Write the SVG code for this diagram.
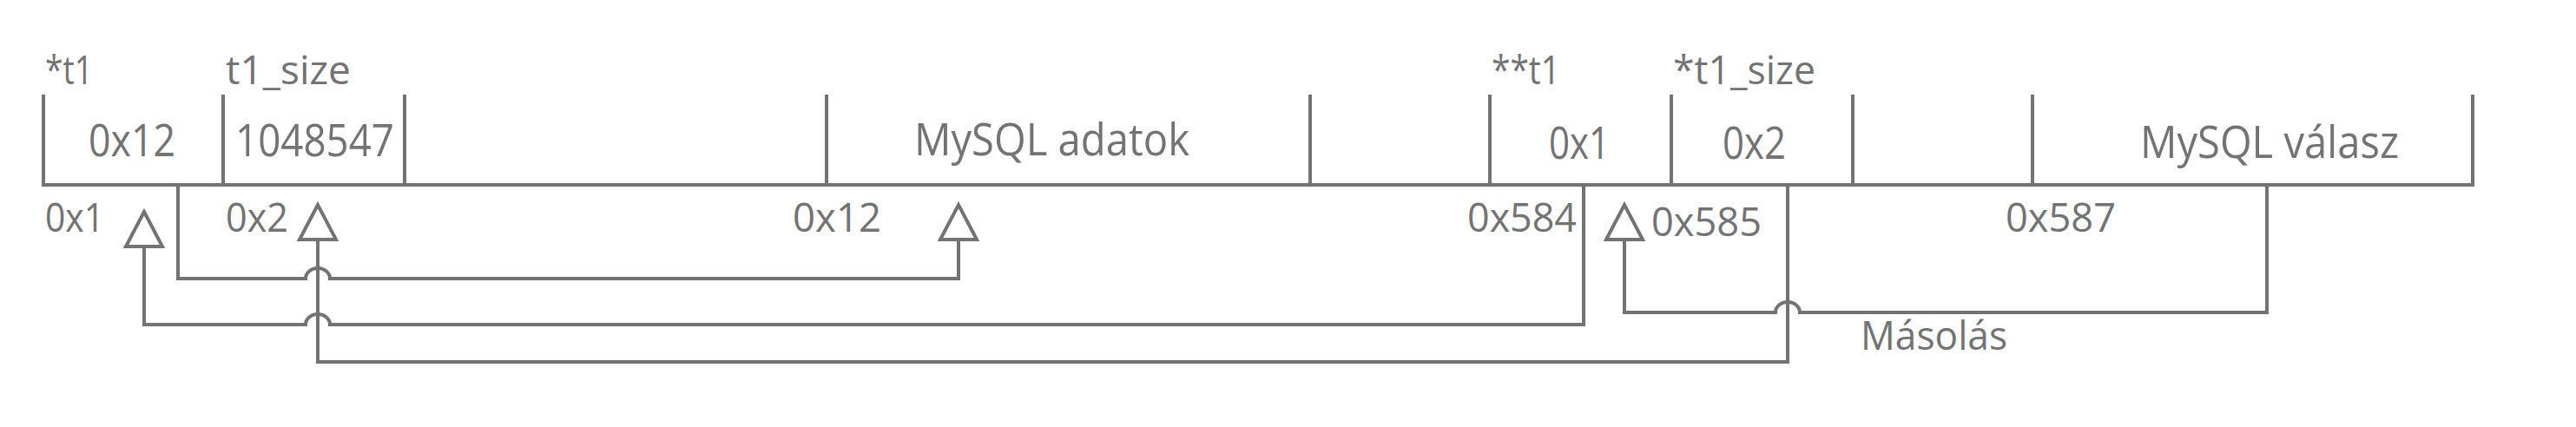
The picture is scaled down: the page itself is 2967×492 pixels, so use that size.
<svg xmlns="http://www.w3.org/2000/svg" width="2967" height="492" viewBox="0 0 2967 492">
  <style>
    .ln { fill: none; stroke: #737373; stroke-width: 4; stroke-linejoin: miter; }
    .tx { font-family: "Open Sans", "Noto Sans", "DejaVu Sans", sans-serif; fill: #737373; }
    .lab { font-size: 45px; }
    .val { font-size: 51px; }
    .adr { font-size: 46px; }
  </style>
  <defs>
    <marker id="tri" markerUnits="userSpaceOnUse" viewBox="-6 -26 52 52" markerWidth="52" markerHeight="52" refX="40" refY="0" orient="auto">
      <path d="M0,-21 L40,0 L0,21 Z" fill="#ffffff" stroke="#737373" stroke-width="4"/>
    </marker>
  </defs>
  <rect x="0" y="0" width="2967" height="492" fill="#ffffff"/>

  <g id="memory">
    <path class="ln" d="M50,109 V213 H2848 V109"/>
  </g>

  <g id="cell-t1">
    <text class="tx lab" x="52" y="97" textLength="55" lengthAdjust="spacingAndGlyphs">*t1</text>
    <text class="tx val" x="102" y="180" textLength="100" lengthAdjust="spacingAndGlyphs">0x12</text>
    <text class="tx adr" x="52" y="267" textLength="68" lengthAdjust="spacingAndGlyphs">0x1</text>
  </g>
  <g id="cell-t1-size">
    <line class="ln" x1="257" y1="109" x2="257" y2="213"/>
    <text class="tx lab" x="260" y="97" textLength="144" lengthAdjust="spacingAndGlyphs">t1_size</text>
    <text class="tx val" x="271" y="180" textLength="183" lengthAdjust="spacingAndGlyphs">1048547</text>
    <text class="tx adr" x="260" y="267" textLength="72" lengthAdjust="spacingAndGlyphs">0x2</text>
  </g>
  <g id="cell-gap1">
    <line class="ln" x1="466" y1="109" x2="466" y2="213"/>
  </g>
  <g id="cell-mysql-data">
    <line class="ln" x1="952" y1="109" x2="952" y2="213"/>
    <text class="tx val" x="1053" y="179" textLength="317" lengthAdjust="spacingAndGlyphs">MySQL adatok</text>
    <text class="tx adr" x="913" y="267" textLength="102" lengthAdjust="spacingAndGlyphs">0x12</text>
  </g>
  <g id="cell-gap2">
    <line class="ln" x1="1509" y1="109" x2="1509" y2="213"/>
  </g>
  <g id="cell-t1-ptr">
    <line class="ln" x1="1716" y1="109" x2="1716" y2="213"/>
    <text class="tx lab" x="1718" y="97" textLength="79" lengthAdjust="spacingAndGlyphs">**t1</text>
    <text class="tx val" x="1784" y="183" textLength="70" lengthAdjust="spacingAndGlyphs">0x1</text>
    <text class="tx adr" x="1690" y="267" textLength="126" lengthAdjust="spacingAndGlyphs">0x584</text>
  </g>
  <g id="cell-t1-size-ptr">
    <line class="ln" x1="1925" y1="109" x2="1925" y2="213"/>
    <text class="tx lab" x="1927" y="97" textLength="164" lengthAdjust="spacingAndGlyphs">*t1_size</text>
    <text class="tx val" x="1984" y="183" textLength="73" lengthAdjust="spacingAndGlyphs">0x2</text>
    <text class="tx adr" x="1902" y="272" textLength="127" lengthAdjust="spacingAndGlyphs">0x585</text>
  </g>
  <g id="cell-gap3">
    <line class="ln" x1="2134" y1="109" x2="2134" y2="213"/>
    <text class="tx adr" x="2310" y="267" textLength="127" lengthAdjust="spacingAndGlyphs">0x587</text>
  </g>
  <g id="cell-mysql-resp">
    <line class="ln" x1="2341" y1="109" x2="2341" y2="213"/>
    <text class="tx val" x="2465" y="182" textLength="298" lengthAdjust="spacingAndGlyphs">MySQL válasz</text>
  </g>

  <g id="connectors">
    <path class="ln" marker-end="url(#tri)" d="M205,213 V321 H352 A14 12 0 0 1 380 321 H1104 V236"/>
    <path class="ln" marker-end="url(#tri)" d="M1824,213 V374 H380 A14 12 0 0 0 352 374 H166 V244"/>
    <path class="ln" marker-end="url(#tri)" d="M2059,213 V417 H366 V236"/>
    <path class="ln" marker-end="url(#tri)" d="M2611,213 V360 H2073 A14 12 0 0 0 2045 360 H1871 V236"/>
    <text class="tx adr" x="2143" y="403" textLength="169" lengthAdjust="spacingAndGlyphs">Másolás</text>
  </g>
</svg>
